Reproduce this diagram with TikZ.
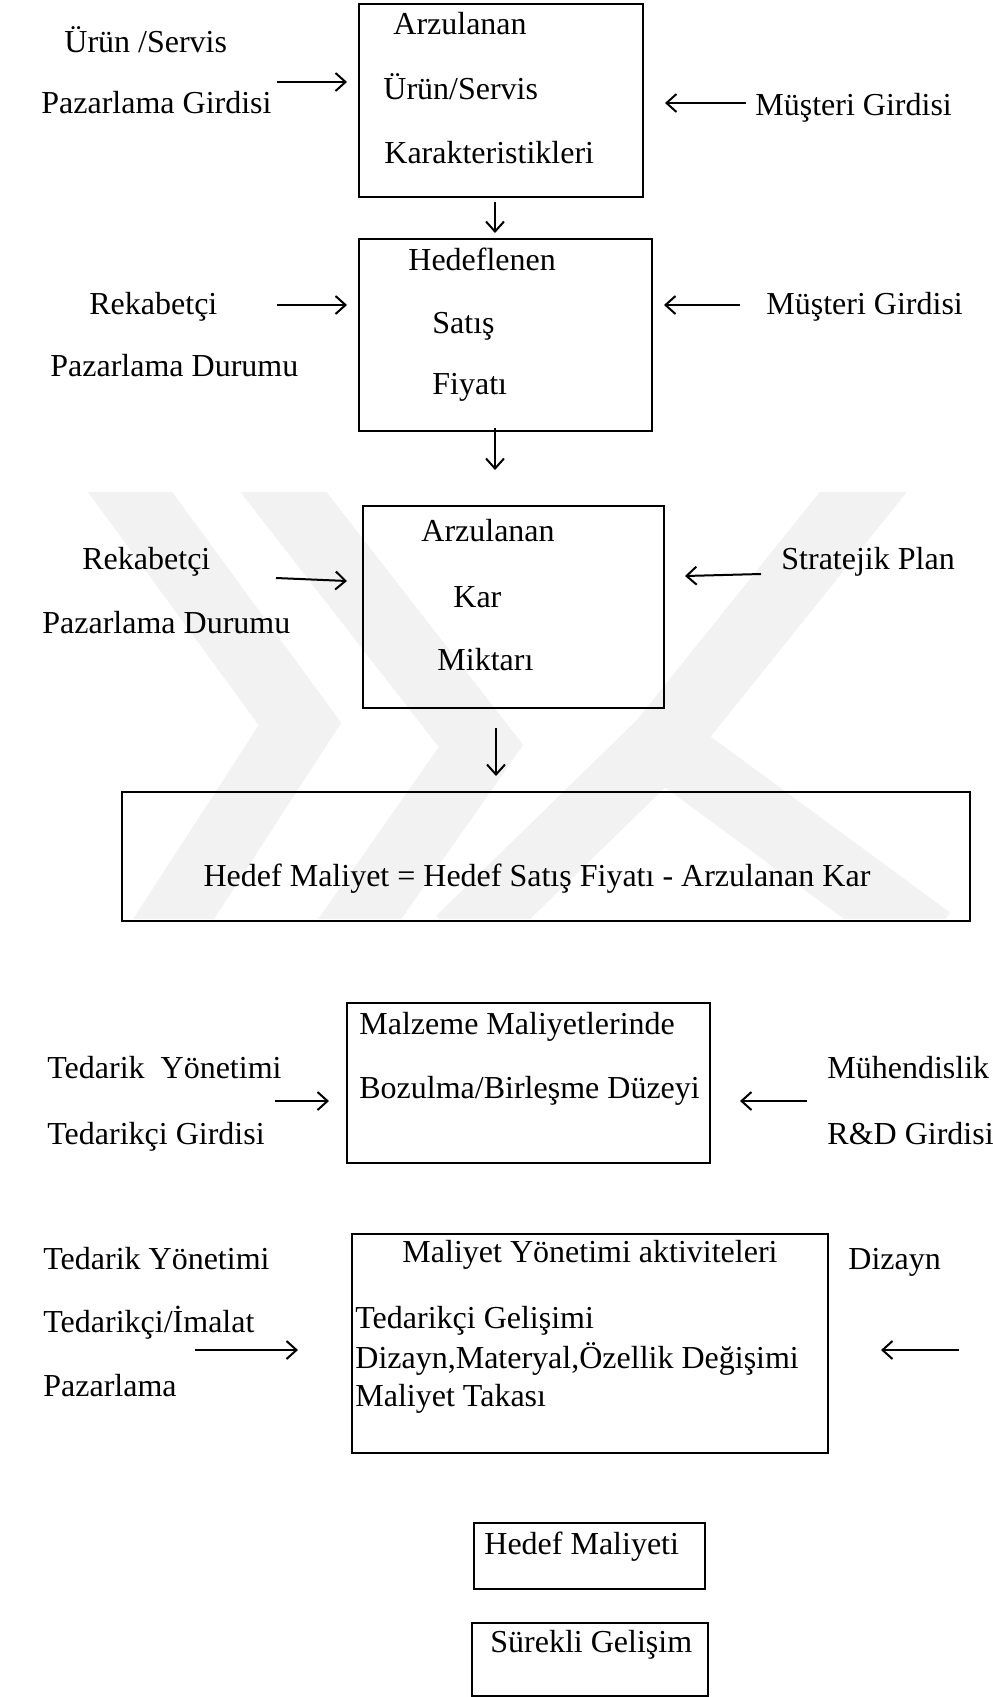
\documentclass[tikz,border=0pt]{standalone}
\usepackage{fontspec}
\setmainfont{Liberation Serif}
\usetikzlibrary{arrows.meta}
\begin{document}
\begin{tikzpicture}[x=0.5pt,y=-0.5pt,
  box/.style={draw, line width=1.25pt, inner sep=0pt},
  lbl/.style={anchor=base west, inner sep=0pt, font=\fontsize{16}{19}\selectfont},
  ctr/.style={anchor=base, inner sep=0pt, font=\fontsize{16}{19}\selectfont},
  arr/.style={line width=1pt, -{Straight Barb[length=5pt,width=9pt,line width=1pt]}},
  wmark/.style={draw=black!5, line width=34pt, line join=miter},
]
\useasboundingbox (0,0) rectangle (992,1697);

% faint watermark
\begin{scope}
  \clip (0,492) rectangle (992,918);
  \draw[wmark] (92,440) -- (300,724) -- (160,940);
  \draw[wmark] (243,440) -- (481,746) -- (345,940);
  \draw[wmark] (905,440) -- (662,743) -- (460,940);
  \draw[wmark] (662,743) -- (930,940);
\end{scope}

% boxes
\node[box, minimum width=142pt, minimum height=96.5pt] (b1) at (501,100.5) {};
\node[box, minimum width=146.5pt, minimum height=96pt] (b2) at (505.5,335) {};
\node[box, minimum width=150.5pt, minimum height=101pt] (b3) at (513.5,607) {};
\node[box, minimum width=424pt, minimum height=64.5pt] (b4) at (546,856.5) {};
\node[box, minimum width=181.5pt, minimum height=80pt] (b5) at (528.5,1083) {};
\node[box, minimum width=238pt, minimum height=109.5pt] (b6) at (590,1343.5) {};
\node[box, minimum width=115.5pt, minimum height=33pt] (b7) at (589.5,1556) {};
\node[box, minimum width=118pt, minimum height=36.5pt] (b8) at (590,1659.5) {};

% box texts
\node[lbl] (t1a) at (393,34) {Arzulanan};
\node[lbl] (t1b) at (383,99) {Ürün/Servis};
\node[lbl] (t1c) at (384,163) {Karakteristikleri};
\node[lbl] (t2a) at (408,270) {Hedeflenen};
\node[lbl] (t2b) at (432,333) {Satış};
\node[lbl] (t2c) at (432,394) {Fiyatı};
\node[lbl] (t3a) at (421,541) {Arzulanan};
\node[lbl] (t3b) at (453,607) {Kar};
\node[lbl] (t3c) at (437,670) {Miktarı};
\node[ctr] (t4) at (537,886) {Hedef Maliyet = Hedef Satış Fiyatı - Arzulanan Kar};
\node[lbl] (t5a) at (359,1034) {Malzeme Maliyetlerinde};
\node[lbl] (t5b) at (359,1098) {Bozulma/Birleşme Düzeyi};
\node[ctr] (t6a) at (590,1262) {Maliyet Yönetimi aktiviteleri};
\node[lbl] (t6b) at (355,1328) {Tedarikçi Gelişimi};
\node[lbl] (t6c) at (355,1368) {Dizayn,Materyal,Özellik Değişimi};
\node[lbl] (t6d) at (355,1406) {Maliyet Takası};
\node[lbl] (t7) at (484,1554) {Hedef Maliyeti};
\node[lbl] (t8) at (490,1652) {Sürekli Gelişim};

% side labels
\node[lbl] (l1a) at (64,52) {Ürün /Servis};
\node[lbl] (l1b) at (41,113) {Pazarlama Girdisi};
\node[lbl] (r1) at (755,115) {Müşteri Girdisi};
\node[lbl] (l2a) at (89,314) {Rekabetçi};
\node[lbl] (l2b) at (50,376) {Pazarlama Durumu};
\node[lbl] (r2) at (766,314) {Müşteri Girdisi};
\node[lbl] (l3a) at (82,569) {Rekabetçi};
\node[lbl] (l3b) at (42,633) {Pazarlama Durumu};
\node[lbl] (r3) at (781,569) {Stratejik Plan};
\node[lbl] (l5a) at (47,1078) {Tedarik\ \ Yönetimi};
\node[lbl] (l5b) at (47,1144) {Tedarikçi Girdisi};
\node[lbl] (r5a) at (827,1078) {Mühendislik};
\node[lbl] (r5b) at (827,1144) {R\&D Girdisi};
\node[lbl] (l6a) at (43,1269) {Tedarik Yönetimi};
\node[lbl] (l6b) at (43,1332) {Tedarikçi/İmalat};
\node[lbl] (l6c) at (43,1396) {Pazarlama};
\node[lbl] (r6) at (848,1269) {Dizayn};

% arrow end points
\coordinate (a1s) at (277,82);  \coordinate (a1e) at (347,82);
\coordinate (a2s) at (746,103);  \coordinate (a2e) at (665,103);
\coordinate (d1s) at (495,202); \coordinate (d1e) at (495,233);
\coordinate (a3s) at (277,305); \coordinate (a3e) at (347,305);
\coordinate (a4s) at (740,305); \coordinate (a4e) at (664,305);
\coordinate (d2s) at (495,428); \coordinate (d2e) at (495,470);
\coordinate (a5s) at (276,578); \coordinate (a5e) at (347,581);
\coordinate (a6s) at (761,574); \coordinate (a6e) at (685,576);
\coordinate (d3s) at (496,728); \coordinate (d3e) at (496,776);
\coordinate (a7s) at (275,1101); \coordinate (a7e) at (329,1101);
\coordinate (a8s) at (807,1101); \coordinate (a8e) at (740,1101);
\coordinate (a9s) at (195,1350); \coordinate (a9e) at (298,1350);
\coordinate (a10s) at (959,1350); \coordinate (a10e) at (881,1350);

\foreach \p in {a1,a2,d1,a3,a4,d2,a5,a6,d3,a7,a8,a9,a10}
  \draw[arr] (\p s) -- (\p e);
\end{tikzpicture}
\end{document}
